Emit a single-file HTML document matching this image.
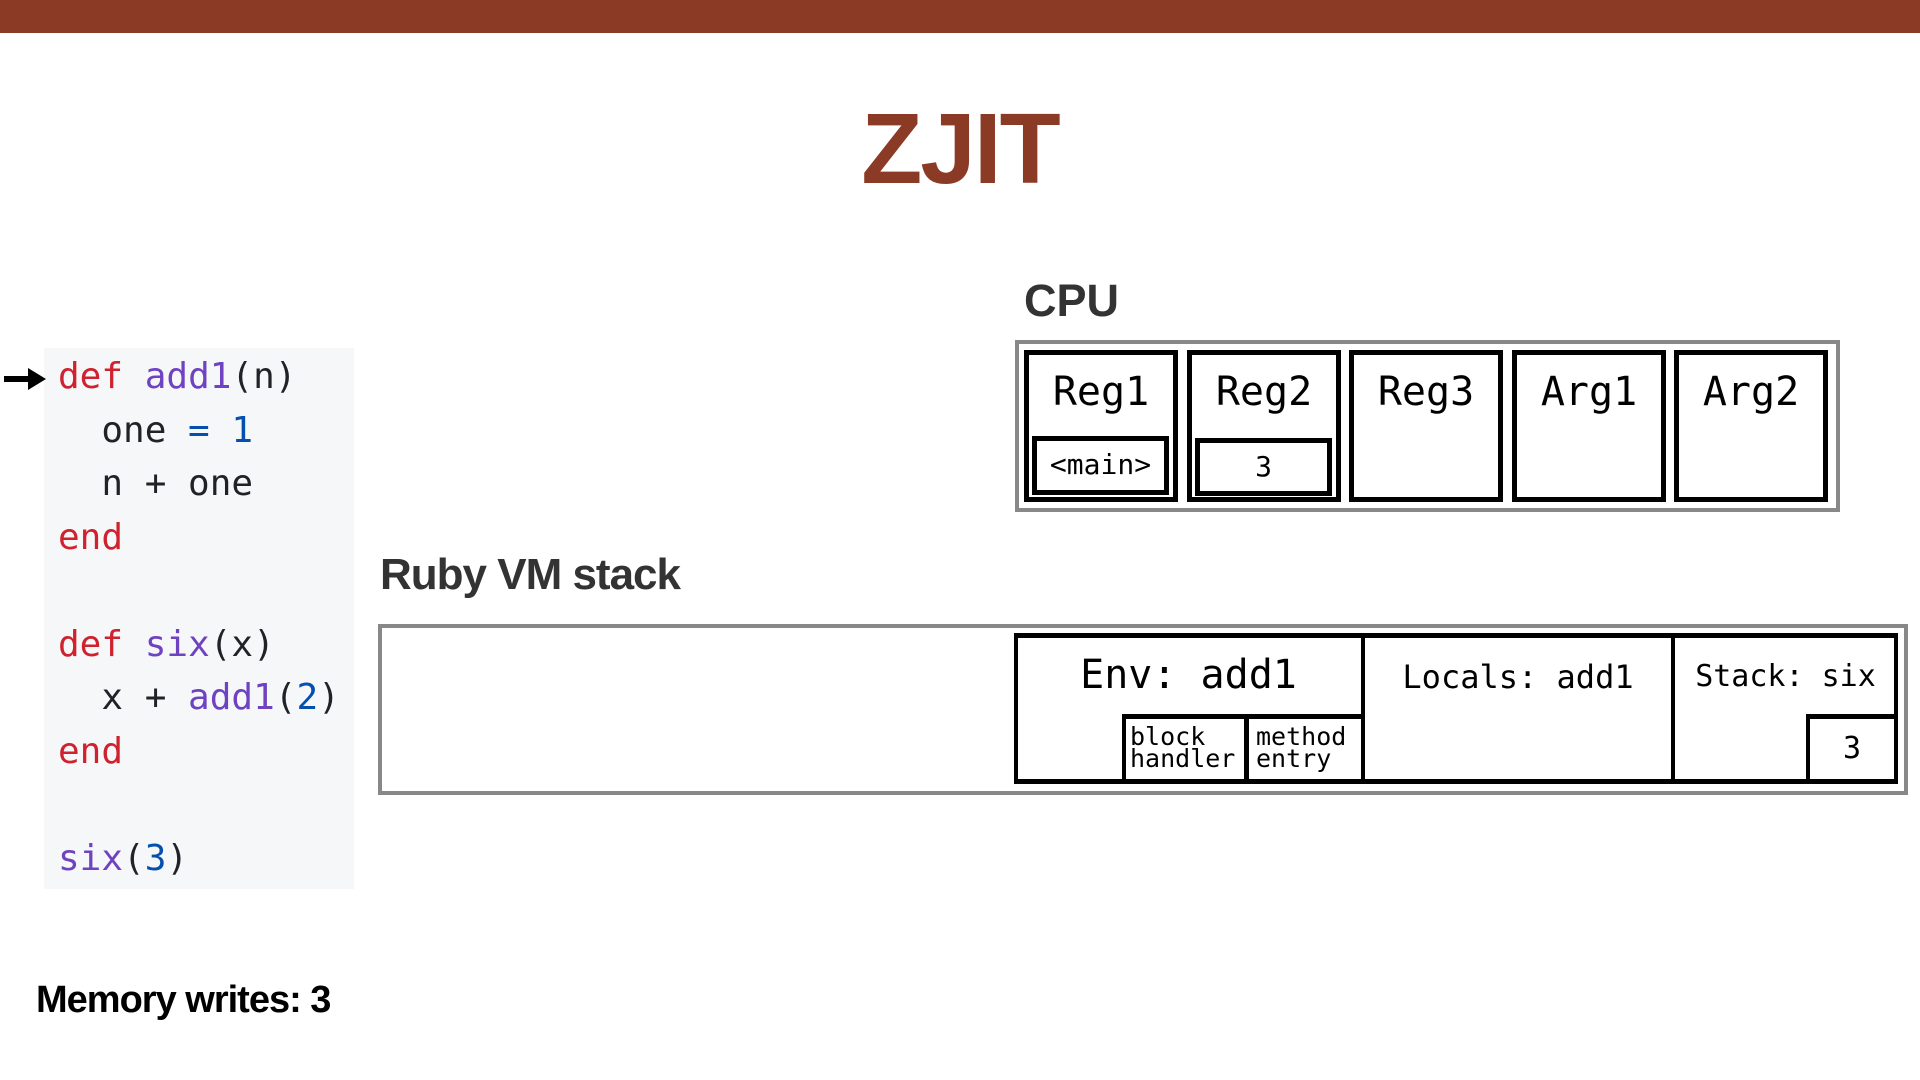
<!DOCTYPE html>
<html><head><meta charset="utf-8"><style>
*{margin:0;padding:0;box-sizing:border-box}
body{width:1920px;height:1080px;background:#fff;position:relative;overflow:hidden;font-family:"Liberation Sans",sans-serif}
.a{position:absolute}
.mono{font-family:"DejaVu Sans Mono","Liberation Mono",monospace}
.reg{position:absolute;top:350px;width:154px;height:152px;border:5px solid #000;text-align:center}
.reg span{position:absolute;left:0;right:0;top:14px;font-size:40px}
.sub{position:absolute;border:5px solid #000;text-align:center;font-size:28px;line-height:48px;background:#fff}
.code div{height:53.5px;line-height:53.5px;white-space:pre}
.r{color:#cf222e}.p{color:#6f42c1}.b{color:#0550ae}
</style></head><body>
<div class="a" style="left:0;top:0;width:1920px;height:33px;background:#8b3a26"></div>
<div class="a" style="left:0;width:1920px;top:94px;text-align:center;font-size:100px;font-weight:bold;color:#8b3a26;letter-spacing:-2px;line-height:110px">ZJIT</div>

<div class="a" style="left:1024px;top:276px;font-size:45px;font-weight:bold;color:#333;line-height:50px">CPU</div>
<div class="a" style="left:1015px;top:340px;width:825px;height:172px;border:4px solid #888"></div>
<div class="reg mono" style="left:1024px"><span>Reg1</span></div>
<div class="reg mono" style="left:1187px"><span>Reg2</span></div>
<div class="reg mono" style="left:1349px"><span>Reg3</span></div>
<div class="reg mono" style="left:1512px"><span>Arg1</span></div>
<div class="reg mono" style="left:1674px"><span>Arg2</span></div>
<div class="sub mono" style="left:1032px;top:436px;width:137px;height:59px">&lt;main&gt;</div>
<div class="sub mono" style="left:1195px;top:438px;width:137px;height:58px">3</div>

<div class="a" style="left:380px;top:550px;font-size:44px;font-weight:bold;color:#333;line-height:50px;letter-spacing:-1px">Ruby VM stack</div>
<div class="a" style="left:378px;top:624px;width:1530px;height:171px;border:4px solid #888"></div>
<div class="a" style="left:1014px;top:633px;width:884px;height:151px;border:5px solid #000;border-left-width:4px;border-right-width:4px"></div>
<div class="a" style="left:1361px;top:633px;width:4px;height:151px;background:#000"></div>
<div class="a" style="left:1671px;top:633px;width:4px;height:151px;background:#000"></div>
<div class="a mono" style="left:1014px;width:349px;top:652px;text-align:center;font-size:40px;line-height:46px">Env: add1</div>
<div class="a mono" style="left:1363px;width:310px;top:658px;text-align:center;font-size:32px;line-height:38px">Locals: add1</div>
<div class="a mono" style="left:1673px;width:225px;top:658px;text-align:center;font-size:30px;line-height:38px">Stack: six</div>
<div class="a" style="left:1122px;top:714px;width:126px;height:70px;border:4px solid #000;border-top-width:5px"></div>
<div class="a" style="left:1245px;top:714px;width:120px;height:70px;border:4px solid #000;border-top-width:5px"></div>
<div class="a mono" style="left:1130px;top:726px;font-size:25px;line-height:22px">block<br>handler</div>
<div class="a mono" style="left:1256px;top:726px;font-size:25px;line-height:22px">method<br>entry</div>
<div class="a mono" style="left:1806px;top:714px;width:92px;height:70px;border:4px solid #000;border-top-width:5px;text-align:center;font-size:30px;line-height:60px">3</div>

<div class="a" style="left:44px;top:348px;width:310px;height:541px;background:#f6f7f9"></div>
<div class="a mono code" style="left:58px;top:350px;font-size:36px;color:#1f2328">
<div><span class="r">def</span> <span class="p">add1</span>(n)</div>
<div>  one <span class="b">=</span> <span class="b">1</span></div>
<div>  n + one</div>
<div class="r">end</div>
<div> </div>
<div><span class="r">def</span> <span class="p">six</span>(x)</div>
<div>  x + <span class="p">add1</span>(<span class="b">2</span>)</div>
<div class="r">end</div>
<div> </div>
<div><span class="p">six</span>(<span class="b">3</span>)</div>
</div>
<svg class="a" style="left:0;top:364px" width="50" height="30"><rect x="4" y="12" width="26" height="6" fill="#000"/><polygon points="28,4 46,15 28,26" fill="#000"/></svg>

<div class="a" style="left:36px;top:978px;font-size:38px;font-weight:bold;color:#000;line-height:44px;letter-spacing:-1px">Memory writes: 3</div>
</body></html>
